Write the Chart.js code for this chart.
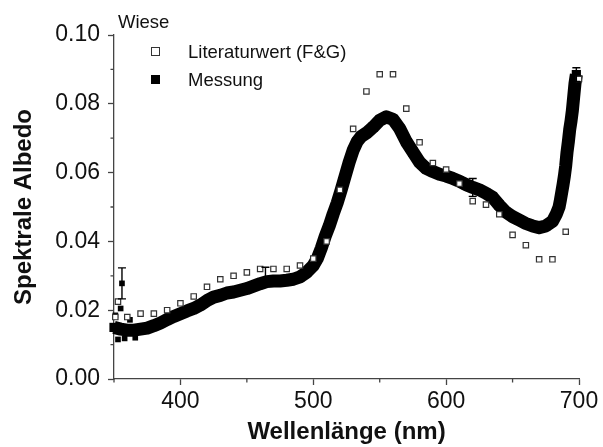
<!DOCTYPE html>
<html>
<head>
<meta charset="utf-8">
<script src="https://cdn.jsdelivr.net/npm/chart.js@4.4.1/dist/chart.umd.min.js"></script>
<style>
  html, body { margin: 0; padding: 0; background: #fff; }
  #wrap { position: relative; width: 603px; height: 447px; font-family: "Liberation Sans", Arial, sans-serif; }
  #legend { position: absolute; left: 0; top: 0; font-size: 18.5px; color: #111; }
  #legend .titel { position: absolute; left: 118px; top: 11px; white-space: nowrap; }
  #legend .eintrag { position: absolute; left: 188px; white-space: nowrap; line-height: 20px; }
  #legend .sym { position: absolute; box-sizing: border-box; width: 9px; height: 9px; }
</style>
</head>
<body>
<div id="wrap">
  <canvas id="chart" width="603" height="447"></canvas>
  <div id="legend">
    <div class="titel">Wiese</div>
    <div class="sym" style="left:151px; top:47px; border:1.3px solid #333; background:#fff;"></div>
    <div class="eintrag" style="top:42px;">Literaturwert (F&amp;G)</div>
    <div class="sym" style="left:151px; top:75px; background:#000;"></div>
    <div class="eintrag" style="top:70px;">Messung</div>
  </div>
</div>
<script>
// Achsen
const xTicks = [400, 500, 600, 700];
const xMinor = [350, 450, 550, 650];
const yTicks = [0, 0.02, 0.04, 0.06, 0.08, 0.10];
const yMinor = [0.01, 0.03, 0.05, 0.07, 0.09];

// Literaturwert (F&G) - offene Quadrate
const litX = [351, 353, 360, 370, 380, 390, 400, 410, 420, 430, 440, 450, 460, 470, 480, 490,
  500, 510, 520, 530, 540, 550, 560, 570, 580, 590, 600, 610, 620, 630, 640, 650, 660, 670, 680, 690, 700];
const litY = [0.0180, 0.0225, 0.0180, 0.0190, 0.0190, 0.0200, 0.0220, 0.0240, 0.0268, 0.0290, 0.0300, 0.0310, 0.0320, 0.0320, 0.0320, 0.0330,
  0.0350, 0.0400, 0.0550, 0.0727, 0.0836, 0.0886, 0.0886, 0.0786, 0.0688, 0.0628, 0.0609, 0.0568, 0.0517, 0.0507, 0.0479, 0.0419, 0.0389, 0.0348, 0.0348, 0.0428, 0.0872];

// Messung - dichtes Band
const messX = [350, 355, 360, 365, 370, 375, 380, 385, 390, 395, 400, 405, 410, 415, 420, 425, 430, 435, 440, 445,
  450, 455, 460, 465, 470, 475, 480, 485, 490, 495, 500, 503, 506, 509, 512, 515, 518, 521, 524, 527,
  530, 533, 536, 540, 545, 550, 555, 560, 565, 570, 575, 580, 585, 590, 595, 600, 605, 610, 615, 620,
  625, 630, 635, 640, 645, 650, 655, 660, 665, 670, 675, 680, 683, 685, 686, 688, 689, 690, 691, 692,
  693, 694, 695, 696, 697, 698];
const messY = [0.0150, 0.0145, 0.0142, 0.0142, 0.0145, 0.0148, 0.0155, 0.0163, 0.0173, 0.0182, 0.0190, 0.0198, 0.0205, 0.0215, 0.0228, 0.0238, 0.0243, 0.0250, 0.0253, 0.0258,
  0.0263, 0.0270, 0.0277, 0.0283, 0.0285, 0.0285, 0.0287, 0.0290, 0.0297, 0.0310, 0.0330, 0.0350, 0.0380, 0.0415, 0.0445, 0.0480, 0.0512, 0.0550, 0.0590, 0.0630,
  0.0665, 0.0690, 0.0705, 0.0715, 0.0732, 0.0752, 0.0762, 0.0755, 0.0728, 0.0690, 0.0660, 0.0630, 0.0612, 0.0603, 0.0595, 0.0590, 0.0583, 0.0575, 0.0565, 0.0557,
  0.0550, 0.0540, 0.0528, 0.0505, 0.0485, 0.0472, 0.0462, 0.0452, 0.0445, 0.0440, 0.0445, 0.0458, 0.0480, 0.0500, 0.0520, 0.0565, 0.0590, 0.0620, 0.0660, 0.0690,
  0.0725, 0.0750, 0.0780, 0.0820, 0.0860, 0.0885];

// Messung - einzelne Ausreisser am Anfang
const streuX = [351, 353, 355, 356, 358, 362, 366];
const streuY = [0.0185, 0.0115, 0.0205, 0.0278, 0.0118, 0.0172, 0.0120];

// Fehlerbalken (Messung)
const fehlerX = [356, 464, 620, 698];
const fehlerY = [0.0278, 0.0300, 0.0557, 0.0885];
const fehlerD = [0.0045, 0.0025, 0.0026, 0.0020];

const achsFarbe = '#444';
const schrift = '"Liberation Sans", Arial, sans-serif';

const toPts = (xs, ys) => xs.map((x, i) => ({ x: x, y: ys[i] }));

// kleine Zwischenstriche + Fehlerbalken
const extras = {
    id: 'extras',
    afterDatasetsDraw(chart) {
        const { ctx, scales: { x, y } } = chart;
        ctx.save();
        ctx.strokeStyle = '#000';
        ctx.lineWidth = 1.4;
        fehlerX.forEach((fx, i) => {
            const px = x.getPixelForValue(fx);
            const top = y.getPixelForValue(fehlerY[i] + fehlerD[i]);
            const bot = y.getPixelForValue(fehlerY[i] - fehlerD[i]);
            ctx.beginPath();
            ctx.moveTo(px, top); ctx.lineTo(px, bot);
            ctx.moveTo(px - 4, top); ctx.lineTo(px + 4, top);
            ctx.moveTo(px - 4, bot); ctx.lineTo(px + 4, bot);
            ctx.stroke();
        });
        ctx.strokeStyle = achsFarbe;
        ctx.lineWidth = 1.3;
        ctx.beginPath();
        yMinor.forEach(v => {
            const py = y.getPixelForValue(v);
            ctx.moveTo(x.left, py); ctx.lineTo(x.left - 3.5, py);
        });
        xMinor.forEach(v => {
            const px = x.getPixelForValue(v);
            ctx.moveTo(px, y.bottom); ctx.lineTo(px, y.bottom + 3.5);
        });
        ctx.stroke();
        ctx.restore();
    }
};

new Chart(document.getElementById('chart'), {
    type: 'scatter',
    data: {
        datasets: [
            {
                label: 'Literaturwert (F&G)',
                data: toPts(litX, litY),
                pointStyle: 'rect',
                pointRadius: 3.8,
                borderWidth: 1.2,
                borderColor: '#333',
                backgroundColor: '#fff',
                order: 0,
                clip: false
            },
            {
                label: 'Messung',
                data: toPts(messX, messY),
                showLine: true,
                borderColor: '#000',
                borderWidth: 13,
                borderJoinStyle: 'round',
                pointStyle: 'rect',
                pointRadius: 6.5,
                pointBorderWidth: 0,
                backgroundColor: '#000',
                order: 2,
                clip: false
            },
            {
                label: 'Messung',
                data: toPts(streuX, streuY),
                pointStyle: 'rect',
                pointRadius: 4,
                pointBorderWidth: 0,
                backgroundColor: '#000',
                order: 1,
                clip: false
            }
        ]
    },
    options: {
        responsive: false,
        animation: false,
        events: [],
        layout: { padding: { left: 0, top: 35, right: 24, bottom: 0 } },
        plugins: { legend: { display: false }, tooltip: { enabled: false } },
        scales: {
            x: {
                type: 'linear',
                min: 350,
                max: 700,
                afterBuildTicks: s => { s.ticks = xTicks.map(v => ({ value: v })); },
                afterFit: s => { s.height = 68; },
                ticks: { color: '#111', font: { family: schrift, size: 23 }, padding: 3, maxRotation: 0 },
                grid: { drawOnChartArea: false, drawTicks: true, tickLength: 6, tickColor: achsFarbe, tickWidth: 1.3 },
                border: { color: achsFarbe, width: 1.3 },
                title: {
                    display: true,
                    text: 'Wellenlänge (nm)',
                    color: '#111',
                    font: { family: schrift, size: 24, weight: 'bold' },
                    padding: { top: 0, bottom: 0 }
                }
            },
            y: {
                min: 0,
                max: 0.1,
                afterBuildTicks: s => { s.ticks = yTicks.map(v => ({ value: v })); },
                afterFit: s => { s.width = 114; },
                ticks: { color: '#111', font: { family: schrift, size: 23 }, padding: 8, callback: v => v.toFixed(2) },
                grid: { drawOnChartArea: false, drawTicks: true, tickLength: 6, tickColor: achsFarbe, tickWidth: 1.3 },
                border: { color: achsFarbe, width: 1.3 },
                title: {
                    display: true,
                    text: 'Spektrale Albedo',
                    color: '#111',
                    font: { family: schrift, size: 24, weight: 'bold' },
                    padding: { top: 10, bottom: 0 }
                }
            }
        }
    },
    plugins: [extras]
});
</script>
</body>
</html>
